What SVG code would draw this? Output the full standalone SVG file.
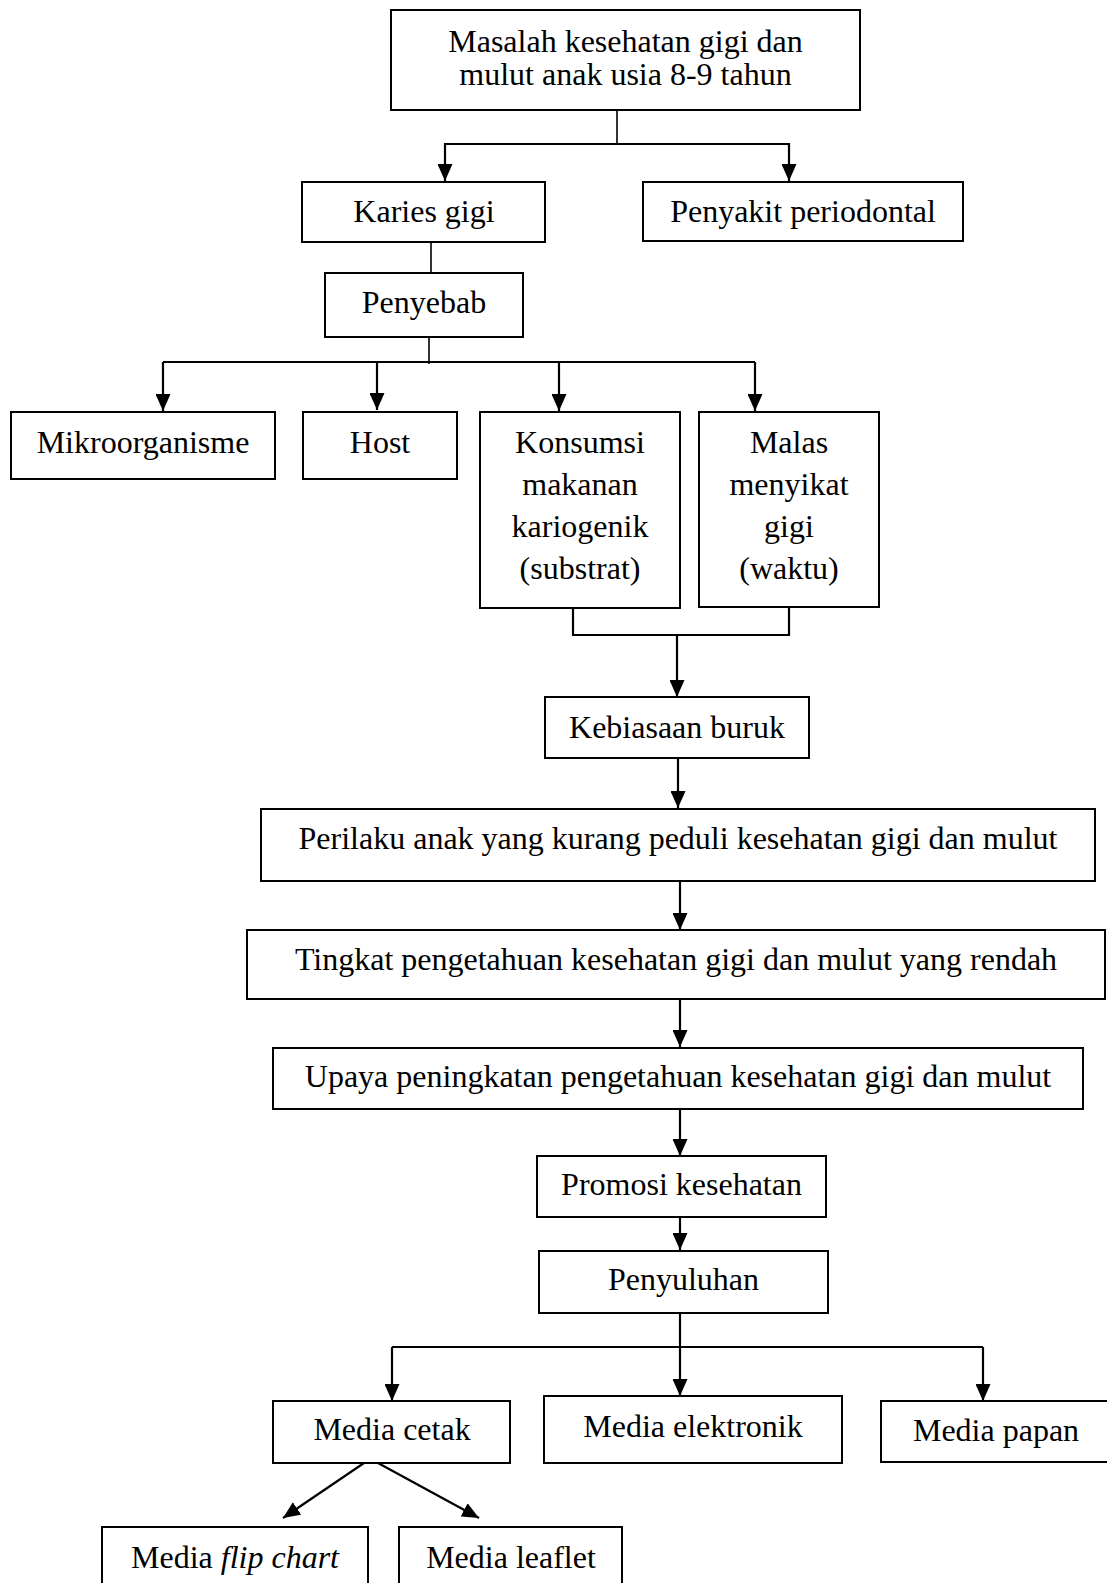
<svg xmlns="http://www.w3.org/2000/svg" width="1107" height="1583" viewBox="0 0 1107 1583">
<style>
.box{fill:#fff;stroke:#000;stroke-width:2}
.t{font-family:"Liberation Serif","Times New Roman",serif;font-size:32px;fill:#000;text-anchor:middle}
.c{fill:none;stroke:#000;stroke-width:2.2}
.thin{fill:none;stroke:#000;stroke-width:1.6}
.a{marker-end:url(#arr)}
</style>
<defs>
<marker id="arr" markerWidth="17" markerHeight="15" refX="17" refY="7.5" orient="auto" markerUnits="userSpaceOnUse">
<path d="M0,0 L17,7.5 L0,15 z" fill="#000"/>
</marker>
</defs>
<rect width="1107" height="1583" fill="#fff"/>
<g id="connectors">
<path class="thin" d="M617,110 V144"/>
<path class="c a" d="M617,144 H445 V181"/>
<path class="c a" d="M617,144 H789 V181"/>
<path class="thin" d="M431,243 V273"/>
<path class="thin" d="M429,337 V364"/>
<path class="c" d="M163,362 H755"/>
<path class="c a" d="M163,362 V411"/>
<path class="c a" d="M377,362 V410"/>
<path class="c a" d="M559,362 V411"/>
<path class="c a" d="M755,362 V411"/>
<path class="c" d="M573,608 V635 H789 V607"/>
<path class="c a" d="M677,635 V697"/>
<path class="c a" d="M678,758 V808"/>
<path class="c a" d="M680,881 V930"/>
<path class="c a" d="M680,999 V1047"/>
<path class="c a" d="M680,1109 V1156"/>
<path class="c a" d="M680,1212 V1250"/>
<path class="c a" d="M680,1313 V1396"/>
<path class="c" d="M392,1347 H983"/>
<path class="c a" d="M392,1347 V1401"/>
<path class="c a" d="M983,1347 V1401"/>
<path class="c a" d="M364,1463 L283,1518"/>
<path class="c a" d="M378,1463 L479,1518"/>
</g>
<g id="n-masalah"><rect class="box" x="391" y="10" width="469" height="100"/><text class="t" x="625.5" y="52">Masalah kesehatan gigi dan</text><text class="t" x="625.5" y="85">mulut anak usia 8-9 tahun</text></g>
<g id="n-karies"><rect class="box" x="302" y="182" width="243" height="60"/><text class="t" x="424" y="222">Karies gigi</text></g>
<g id="n-periodontal"><rect class="box" x="643" y="182" width="320" height="59"/><text class="t" x="803" y="222">Penyakit periodontal</text></g>
<g id="n-penyebab"><rect class="box" x="325" y="273" width="198" height="64"/><text class="t" x="424" y="313">Penyebab</text></g>
<g id="n-mikro"><rect class="box" x="11" y="412" width="264" height="67"/><text class="t" x="143" y="453">Mikroorganisme</text></g>
<g id="n-host"><rect class="box" x="303" y="412" width="154" height="67"/><text class="t" x="380" y="453">Host</text></g>
<g id="n-konsumsi"><rect class="box" x="480" y="412" width="200" height="196"/><text class="t" x="580" y="453">Konsumsi</text><text class="t" x="580" y="495">makanan</text><text class="t" x="580" y="537">kariogenik</text><text class="t" x="580" y="579">(substrat)</text></g>
<g id="n-malas"><rect class="box" x="699" y="412" width="180" height="195"/><text class="t" x="789" y="453">Malas</text><text class="t" x="789" y="495">menyikat</text><text class="t" x="789" y="537">gigi</text><text class="t" x="789" y="579">(waktu)</text></g>
<g id="n-kebiasaan"><rect class="box" x="545" y="697" width="264" height="61"/><text class="t" x="677" y="738">Kebiasaan buruk</text></g>
<g id="n-perilaku"><rect class="box" x="261" y="809" width="834" height="72"/><text class="t" x="678" y="849">Perilaku anak yang kurang peduli kesehatan gigi dan mulut</text></g>
<g id="n-tingkat"><rect class="box" x="247" y="930" width="858" height="69"/><text class="t" x="676" y="970">Tingkat pengetahuan kesehatan gigi dan mulut yang rendah</text></g>
<g id="n-upaya"><rect class="box" x="273" y="1048" width="810" height="61"/><text class="t" x="678" y="1087">Upaya peningkatan pengetahuan kesehatan gigi dan mulut</text></g>
<g id="n-promosi"><rect class="box" x="537" y="1156" width="289" height="61"/><text class="t" x="681.5" y="1195">Promosi kesehatan</text></g>
<g id="n-penyuluhan"><rect class="box" x="539" y="1251" width="289" height="62"/><text class="t" x="683.5" y="1290">Penyuluhan</text></g>
<g id="n-cetak"><rect class="box" x="273" y="1401" width="237" height="62"/><text class="t" x="392" y="1440">Media cetak</text></g>
<g id="n-elektronik"><rect class="box" x="544" y="1396" width="298" height="67"/><text class="t" x="693" y="1437">Media elektronik</text></g>
<g id="n-papan"><rect class="box" x="881" y="1401" width="240" height="61"/><text class="t" x="996" y="1441">Media papan</text></g>
<g id="n-flipchart"><rect class="box" x="102" y="1527" width="266" height="80"/><text class="t" x="235" y="1568">Media <tspan font-style="italic">flip chart</tspan></text></g>
<g id="n-leaflet"><rect class="box" x="399" y="1527" width="223" height="80"/><text class="t" x="511" y="1568">Media leaflet</text></g>
</svg>
